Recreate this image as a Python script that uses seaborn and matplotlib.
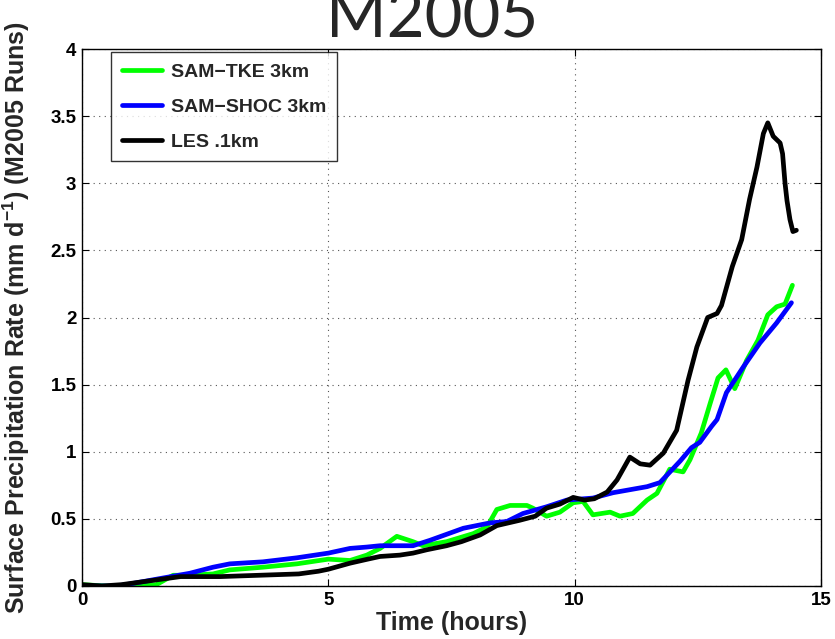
import numpy as np
import pandas as pd
import matplotlib
matplotlib.use("Agg")
import matplotlib.pyplot as plt
import seaborn as sns

# ---- data ----
les_t = [0, 0.4, 0.8, 1.2, 1.6, 2.0, 2.4, 2.8, 3.2, 3.6, 4.0, 4.4, 4.8, 5.0, 5.44, 5.8,
         6.05, 6.45, 6.72, 7.0, 7.4, 7.7, 8.08, 8.42, 8.89, 9.2, 9.43, 9.7, 9.97, 10.2,
         10.4, 10.66, 10.86, 11.12, 11.33, 11.53, 11.8, 12.07, 12.3, 12.48, 12.7, 12.89,
         12.98, 13.2, 13.39, 13.55, 13.7, 13.83, 13.92, 14.03, 14.17, 14.22, 14.27, 14.31,
         14.37, 14.43, 14.5]
les_v = [0.01, 0.0, 0.01, 0.03, 0.05, 0.07, 0.07, 0.07, 0.075, 0.08, 0.085, 0.09, 0.11,
         0.125, 0.17, 0.2, 0.22, 0.23, 0.245, 0.27, 0.30, 0.33, 0.38, 0.45, 0.49, 0.52,
         0.58, 0.61, 0.66, 0.64, 0.65, 0.70, 0.79, 0.96, 0.91, 0.90, 0.99, 1.16, 1.53,
         1.78, 2.0, 2.03, 2.09, 2.38, 2.58, 2.88, 3.12, 3.37, 3.45, 3.35, 3.30, 3.22, 3.0,
         2.87, 2.73, 2.64, 2.65]

tke_t = [0, 0.5, 1.0, 1.51, 1.85, 2.19, 2.66, 3.0, 3.67, 4.36, 5.0, 5.44, 5.78, 6.05,
         6.39, 6.72, 6.92, 7.4, 7.94, 8.22, 8.42, 8.69, 9.03, 9.15, 9.43, 9.7, 9.97,
         10.17, 10.37, 10.72, 10.92, 11.18, 11.47, 11.67, 11.93, 12.2, 12.34, 12.57,
         12.75, 12.91, 13.07, 13.25, 13.49, 13.72, 13.92, 14.1, 14.27, 14.42]
tke_v = [0.01, 0.0, 0.0, 0.01, 0.08, 0.08, 0.09, 0.12, 0.14, 0.165, 0.20, 0.19, 0.23,
         0.28, 0.37, 0.33, 0.30, 0.33, 0.39, 0.44, 0.57, 0.60, 0.60, 0.58, 0.52, 0.55,
         0.62, 0.63, 0.53, 0.55, 0.52, 0.54, 0.64, 0.69, 0.87, 0.85, 0.94, 1.14, 1.36,
         1.55, 1.61, 1.47, 1.68, 1.83, 2.02, 2.08, 2.10, 2.24]

shoc_t = [0, 0.7, 0.97, 1.65, 2.19, 2.66, 3.0, 3.67, 4.36, 5.0, 5.44, 5.78, 6.05, 6.72,
          7.06, 7.74, 8.28, 8.62, 8.95, 9.43, 9.84, 10.37, 10.78, 11.47, 11.73, 12.14,
          12.37, 12.54, 12.78, 12.89, 13.08, 13.42, 13.76, 14.1, 14.4]
shoc_v = [0.0, 0.0, 0.015, 0.06, 0.095, 0.14, 0.165, 0.18, 0.21, 0.245, 0.28, 0.29,
          0.30, 0.30, 0.34, 0.43, 0.47, 0.48, 0.54, 0.59, 0.64, 0.655, 0.695, 0.74, 0.77,
          0.93, 1.03, 1.07, 1.19, 1.24, 1.44, 1.63, 1.81, 1.96, 2.11]

series_names = ["SAM\u2212TKE 3km", "SAM\u2212SHOC 3km", "LES .1km"]
series_colors = ["#00ff00", "#0000ff", "#000000"]
x_ticks = [0, 5, 10, 15]
y_ticks = [0, 0.5, 1, 1.5, 2, 2.5, 3, 3.5, 4]
y_tick_labels = ["0", "0.5", "1", "1.5", "2", "2.5", "3", "3.5", "4"]

df = pd.concat([
    pd.DataFrame({"t": tke_t, "v": tke_v, "run": series_names[0]}),
    pd.DataFrame({"t": shoc_t, "v": shoc_v, "run": series_names[1]}),
    pd.DataFrame({"t": les_t, "v": les_v, "run": series_names[2]}),
], ignore_index=True)

sns.set_style("ticks")
plt.rcParams["font.family"] = ["Liberation Sans", "DejaVu Sans"]
plt.rcParams["font.weight"] = "bold"
plt.rcParams["mathtext.fontset"] = "custom"
plt.rcParams["mathtext.rm"] = "Liberation Sans:bold"
plt.rcParams["mathtext.bf"] = "Liberation Sans:bold"
plt.rcParams["mathtext.it"] = "Liberation Sans:bold"

fig = plt.figure(figsize=(8.35, 6.39), dpi=100)
ax = fig.add_axes([82 / 835, 1 - 586 / 639, 739 / 835, 537 / 639])

sns.lineplot(data=df, x="t", y="v", hue="run", hue_order=series_names,
             palette=dict(zip(series_names, series_colors)), sort=False,
             estimator=None, linewidth=3.4, ax=ax)

ax.set_xlim(0, 15)
ax.set_ylim(0, 4)
ax.set_xticks(x_ticks)
ax.set_xticklabels([str(v) for v in x_ticks])
ax.set_yticks(y_ticks)
ax.set_yticklabels(y_tick_labels)
ax.tick_params(axis="both", direction="in", length=5, width=0.8, top=True, right=True,
               labelsize=13.5, pad=4, colors="black")
for lab in ax.get_xticklabels() + ax.get_yticklabels():
    lab.set_fontweight("bold")
ax.grid(True, linestyle=(0, (1, 4)), color="#555555", linewidth=0.8)
for sp in ax.spines.values():
    sp.set_visible(True)
    sp.set_color("black")
    sp.set_linewidth(1.0)

ax.set_xlabel("Time (hours)", fontsize=18, fontweight="bold", labelpad=2)
ax.set_ylabel(r"Surface Precipitation Rate (mm d$^{-1}$) (M2005 Runs)",
              fontsize=18, fontweight="bold")
ax.yaxis.set_label_coords(-0.068, 0.5)

leg = ax.legend(loc="upper left", bbox_to_anchor=(0.039, 0.994), borderaxespad=0,
                frameon=True, fancybox=False, fontsize=14, handlelength=2.1,
                labelspacing=0.9, borderpad=0.55, handletextpad=0.45)
leg.get_frame().set_edgecolor("black")
leg.get_frame().set_linewidth(1.0)
for txt in leg.get_texts():
    txt.set_fontweight("bold")
for line in leg.get_lines():
    line.set_linewidth(3.4)

fig.text(0.518, 1 - 38 / 639, "M2005", ha="center", va="baseline",
         fontsize=47, family=["Lato", "DejaVu Sans"], fontweight="normal")

fig.savefig("out.png", dpi=100)
